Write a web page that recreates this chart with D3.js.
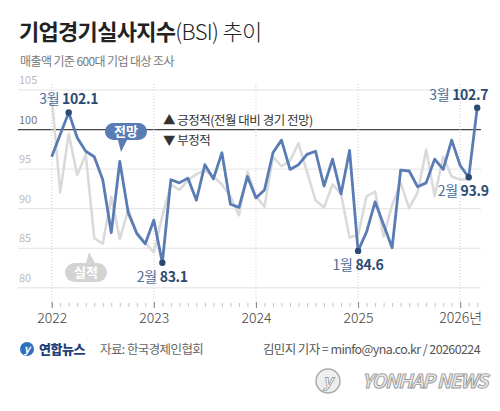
<!DOCTYPE html>
<html>
<head>
<meta charset="utf-8">
<script src="https://cdn.jsdelivr.net/npm/d3@7"></script>
<style>
  body { margin: 0; background: #fff; }
  text { font-family: "Noto Sans CJK KR", "Noto Sans", sans-serif; }
</style>
</head>
<body>
<div id="chart"></div>
<script>
// monthly BSI, Jan 2022 .. Mar 2026 (전망 = outlook, 실적 = actual)
var outlook = [96.5, 99.3, 102.1, 98.9, 97.2, 96.5, 93.6, 86.9, 95.9, 89.4, 86.8, 85.5,
               88.5, 83.1, 93.6, 93.2, 93.8, 91.0, 95.5, 93.7, 97.0, 90.5, 90.1, 94.0,
               91.3, 92.3, 97.0, 98.6, 94.9, 95.5, 96.8, 97.2, 92.8, 96.2, 91.8, 97.3,
               84.6, 87.0, 90.8, 87.9, 85.0, 94.8, 94.7, 92.7, 93.2, 96.2, 94.9, 98.6,
               95.4, 93.9, 102.7];
var actual = [104.2, 92.0, 99.4, 94.2, 96.8, 86.2, 85.5, 91.4, 86.1, 89.8, 86.9, 85.6,
              84.4, 89.0, 93.0, 92.3, 93.5, 94.3, 94.8, 94.0, 93.0, 91.5, 89.1, 94.6,
              91.5, 90.2, 96.5, 95.3, 96.0, 98.2, 94.6, 91.0, 90.1, 93.0, 91.8, 86.3,
              86.6, 91.5, 92.1, 86.4, 90.4, 93.2, 90.0, 92.0, 97.4, 91.5, 96.5, 94.0,
              93.6, 93.7];
var yearLabels = ["2022", "2023", "2024", "2025", "2026년"];
var yTicks = [80, 85, 90, 95, 100, 105];
var markIdx = [2, 13, 36, 49, 50];
var markMonth = ["3월", "2월", "1월", "2월", "3월"];

var width = 500, height = 411;
var svg = d3.select("#chart").append("svg")
    .attr("width", width)
    .attr("height", height);

var x = d3.scaleLinear().domain([0, 48]).range([51.7, 460.2]);
var y = d3.scaleLinear().domain([80, 105]).range([287.3, 89.5]);

// title
var title = svg.append("text").attr("x", 19).attr("y", 40)
    .attr("font-size", 22).attr("fill", "#222").attr("letter-spacing", -0.7);
title.append("tspan").attr("font-weight", 700).text("기업경기실사지수");
title.append("tspan").attr("font-weight", 300).text("(BSI) 추이");

svg.append("text").attr("x", 20).attr("y", 66)
   .attr("font-size", 12).attr("fill", "#777").attr("letter-spacing", -0.6)
   .text("매출액 기준 600대 기업 대상 조사");

// horizontal grid + y labels
var yAxis = svg.append("g").attr("transform", "translate(18,0)")
    .call(d3.axisRight(y).tickValues(yTicks).tickSize(463));
yAxis.select(".domain").remove();
yAxis.selectAll(".tick line")
     .attr("stroke", function(d) { return d === 100 ? "#444" : "#e2e2e2"; })
     .attr("stroke-width", function(d) { return d === 100 ? 1.2 : 1; });
yAxis.selectAll(".tick text")
     .attr("x", 1).attr("dy", -6).attr("text-anchor", "start")
     .attr("font-size", 11)
     .attr("fill", function(d) { return d === 100 ? "#777" : "#bbb"; });

// year dotted lines
svg.selectAll(".yearline").data(yearLabels).enter().append("line")
   .attr("class", "yearline")
   .attr("x1", function(d, i) { return x(i * 12); })
   .attr("x2", function(d, i) { return x(i * 12); })
   .attr("y1", 84).attr("y2", 304)
   .attr("stroke", "#cfcfcf").attr("stroke-dasharray", "1,2");

// month ticks
var xAxis = svg.append("g").attr("transform", "translate(0,303)")
    .call(d3.axisBottom(x).tickValues(d3.range(0, 51)).tickSize(4).tickFormat(""));
xAxis.select(".domain").remove();
xAxis.selectAll(".tick line").attr("stroke", "#c4c4c4");

var yearAxis = svg.append("g").attr("transform", "translate(0,302)")
    .call(d3.axisBottom(x).tickValues([0, 12, 24, 36, 48]).tickSize(6)
          .tickFormat(function(d) { return yearLabels[d / 12]; }));
yearAxis.select(".domain").remove();
yearAxis.selectAll(".tick line").attr("stroke", "#888");
yearAxis.selectAll(".tick text").attr("font-size", 14).attr("fill", "#444")
        .attr("dy", 12).attr("font-weight", 300);

// legend notes
svg.append("text").attr("x", 163).attr("y", 125).attr("font-size", 12.5)
   .attr("fill", "#333").attr("letter-spacing", -0.5).text("▲ 긍정적(전월 대비 경기 전망)");
svg.append("text").attr("x", 163).attr("y", 145).attr("font-size", 12.5)
   .attr("fill", "#333").attr("letter-spacing", -0.5).text("▼ 부정적");

// lines
var line = d3.line().x(function(d, i) { return x(i); }).y(function(d) { return y(d); });
svg.append("path").datum(actual).attr("d", line)
   .attr("fill", "none").attr("stroke", "#dadada").attr("stroke-width", 2.6)
   .attr("stroke-linejoin", "round");
svg.append("path").datum(outlook).attr("d", line)
   .attr("fill", "none").attr("stroke", "#5a7cb4").attr("stroke-width", 2.8)
   .attr("stroke-linejoin", "round");

// bubbles
function bubble(x0, y0, w, h, tip, fill, label, up) {
  var g = svg.append("g");
  g.append("rect").attr("x", x0).attr("y", y0).attr("width", w).attr("height", h)
   .attr("rx", h / 2).attr("fill", fill);
  var by = up ? y0 : y0 + h;
  g.append("path").attr("d", "M" + (tip[0] - 3) + "," + by + "L" + tip[0] + "," + tip[1] +
                    "L" + (tip[0] + 6) + "," + by + "Z").attr("fill", fill);
  g.append("text").attr("x", x0 + w / 2).attr("y", y0 + h / 2 + 4.5)
   .attr("text-anchor", "middle").attr("font-size", 13).attr("font-weight", 700)
   .attr("fill", "#fff").text(label);
}
bubble(105, 123, 42, 17, [121, 152], "#5a7cb4", "전망", false);
bubble(65, 263, 42, 19, [89, 252], "#d3d3d3", "실적", true);

// marked points
var marks = markIdx.map(function(d, i) { return { i: d, m: markMonth[i], v: outlook[d] }; });
svg.selectAll(".dot").data(marks).enter().append("circle")
   .attr("cx", function(d) { return x(d.i); })
   .attr("cy", function(d) { return y(d.v); })
   .attr("r", 3.2).attr("fill", "#2b4a72");

var lab = svg.selectAll(".lab").data(marks).enter().append("text")
   .attr("font-size", 14).attr("letter-spacing", -0.3)
   .attr("x", function(d) {
     if (d.i === 49) return x(d.i) + 20;
     if (d.i === 50) return x(d.i) + 11;
     return x(d.i);
   })
   .attr("y", function(d) {
     if (d.i === 2 || d.i === 50) return y(d.v) - 8;
     return y(d.v) + 19;
   })
   .attr("text-anchor", function(d) { return d.i >= 49 ? "end" : "middle"; });
lab.append("tspan").attr("fill", "#4d6d9c").attr("font-weight", 400)
   .text(function(d) { return d.m + " "; });
lab.append("tspan").attr("fill", "#2b4a72").attr("font-weight", 700)
   .text(function(d) { return d.v.toFixed(1); });

// footer
svg.append("circle").attr("cx", 27).attr("cy", 349).attr("r", 7).attr("fill", "#2f6fc0");
svg.append("text").attr("x", 27).attr("y", 353).attr("text-anchor", "middle")
   .attr("font-size", 11).attr("font-style", "italic").attr("font-weight", 700)
   .attr("fill", "#fff").text("y");
svg.append("text").attr("x", 39).attr("y", 354).attr("font-size", 13)
   .attr("font-weight", 900).attr("fill", "#1d3f7a").attr("letter-spacing", -0.5).text("연합뉴스");
svg.append("text").attr("x", 100).attr("y", 354).attr("font-size", 12.5)
   .attr("fill", "#666").attr("letter-spacing", -0.6).text("자료: 한국경제인협회");
svg.append("text").attr("x", 480).attr("y", 354).attr("font-size", 12.5)
   .attr("text-anchor", "end").attr("fill", "#555").attr("letter-spacing", -0.6)
   .text("김민지 기자 = minfo@yna.co.kr / 20260224");

// watermark
svg.append("circle").attr("cx", 328).attr("cy", 381).attr("r", 12)
   .attr("fill", "#eee").attr("stroke", "#aaa").attr("stroke-width", 1.5);
svg.append("text").attr("x", 328).attr("y", 387).attr("text-anchor", "middle")
   .attr("font-size", 17).attr("font-style", "italic").attr("font-weight", 700)
   .attr("fill", "#fff").attr("stroke", "#999").attr("stroke-width", 0.8).text("y");
svg.append("text").attr("x", 487).attr("y", 388).attr("text-anchor", "end")
   .attr("font-family", "DejaVu Sans").attr("font-size", 19).attr("font-style", "italic")
   .attr("font-weight", 700).attr("fill", "#e8e8e8").attr("stroke", "#999")
   .attr("stroke-width", 0.9).attr("letter-spacing", -1.2).text("YONHAP NEWS");
</script>
</body>
</html>
